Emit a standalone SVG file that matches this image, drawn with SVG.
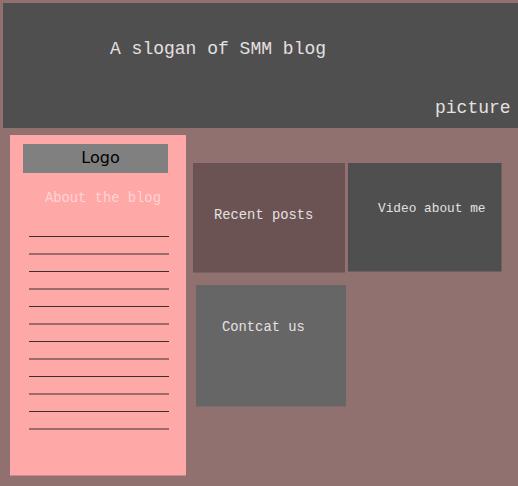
<svg xmlns="http://www.w3.org/2000/svg" width="518" height="486" viewBox="0 0 518 486">
  <style>
    .mono { font-family: "Liberation Mono", "DejaVu Sans Mono", monospace; }
    .light { fill: #e6e0e0; }
    .rule { stroke: #3a3030; stroke-width: 1.2; }
  </style>
  <!-- page background -->
  <rect x="0" y="0" width="518" height="486" fill="#917070"/>

  <!-- header band -->
  <g id="header">
    <rect x="3" y="3" width="515" height="125" fill="#4f4f4f"/>
    <text class="mono light" x="110" y="54" font-size="18">A slogan of SMM blog</text>
    <text class="mono light" x="435" y="113" font-size="18">picture</text>
  </g>

  <!-- sidebar -->
  <g id="sidebar">
    <rect x="10" y="135" width="176" height="340.5" fill="#ffa8a8"/>
    <g id="logo">
      <rect x="23" y="144" width="145" height="29" fill="#808080"/>
      <text x="100.5" y="162.5" font-size="16" text-anchor="middle" fill="#000" font-family="DejaVu Sans, sans-serif">Logo</text>
    </g>
    <text class="mono" x="45" y="202" font-size="13.8" fill="#ffd4d4">About the blog</text>
    <g id="lines">
      <line class="rule" x1="29" y1="236.5" x2="169" y2="236.5"/>
      <line class="rule" x1="29" y1="254" x2="169" y2="254"/>
      <line class="rule" x1="29" y1="271.5" x2="169" y2="271.5"/>
      <line class="rule" x1="29" y1="289" x2="169" y2="289"/>
      <line class="rule" x1="29" y1="306.5" x2="169" y2="306.5"/>
      <line class="rule" x1="29" y1="324" x2="169" y2="324"/>
      <line class="rule" x1="29" y1="341.5" x2="169" y2="341.5"/>
      <line class="rule" x1="29" y1="359" x2="169" y2="359"/>
      <line class="rule" x1="29" y1="376.5" x2="169" y2="376.5"/>
      <line class="rule" x1="29" y1="394" x2="169" y2="394"/>
      <line class="rule" x1="29" y1="411.5" x2="169" y2="411.5"/>
      <line class="rule" x1="29" y1="429" x2="169" y2="429"/>
    </g>
  </g>

  <!-- content blocks -->
  <g id="recent-posts">
    <rect x="193" y="163" width="152" height="109.5" fill="#6b5353"/>
    <text class="mono light" x="214" y="219" font-size="13.8">Recent posts</text>
  </g>
  <g id="video">
    <rect x="348" y="163" width="153.5" height="108.5" fill="#4f4f4f"/>
    <text class="mono light" x="378" y="212" font-size="12.8">Video about me</text>
  </g>
  <g id="contact">
    <rect x="196" y="285" width="150" height="121.5" fill="#666666"/>
    <text class="mono light" x="222" y="331" font-size="13.8">Contcat us</text>
  </g>

  <g id="connectors"/>
</svg>
